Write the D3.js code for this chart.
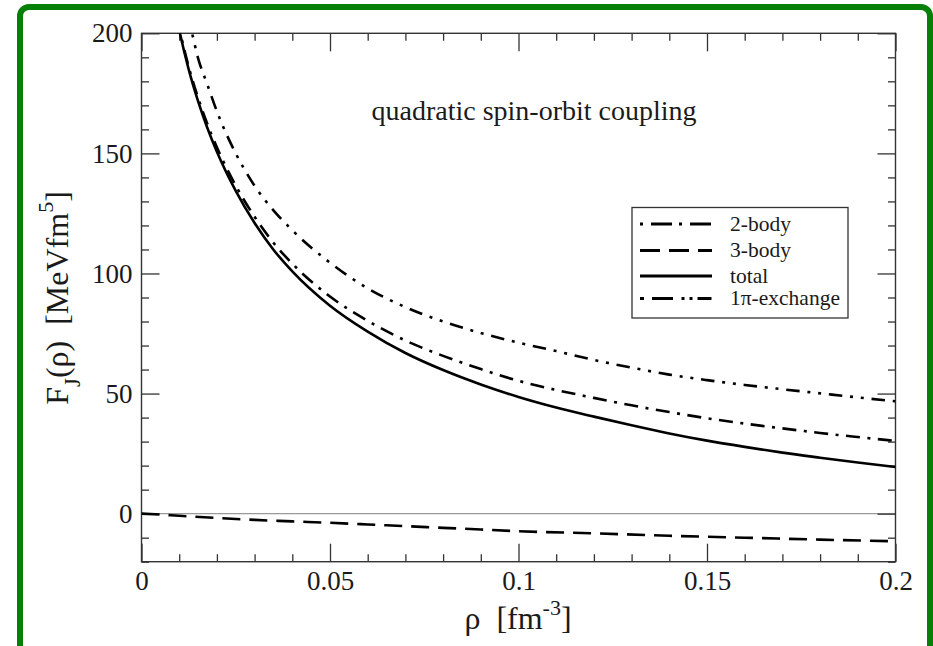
<!DOCTYPE html>
<html>
<head>
<meta charset="utf-8">
<script src="https://cdn.jsdelivr.net/npm/d3@7/dist/d3.min.js"></script>
<style>
  html, body { margin: 0; padding: 0; background: #fff; }
  svg { display: block; }
  text { font-family: "Liberation Serif", "Times New Roman", serif; fill: #1a1a1a; }
</style>
</head>
<body>
<svg id="chart" width="933" height="646"></svg>
<script>
// ---- data ----
const rho = [0.0095,0.0102,0.0125,0.015,0.0175,0.02,0.025,0.03,0.035,0.04,0.05,0.06,0.07,0.08,0.09,0.1,0.11,0.12,0.13,0.14,0.15,0.16,0.17,0.18,0.19,0.2];
const totalVals = [205.2,200,185.1,171.8,160.5,150.7,134.4,121.0,109.9,100.9,86.6,75.8,66.9,59.8,53.8,48.6,44.2,40.4,36.8,33.4,30.4,27.8,25.4,23.3,21.3,19.4];
const twoBodyVals = [206.0,200.9,186.2,173.2,162.1,152.5,136.6,123.6,112.8,104.1,90.4,80.3,72.1,65.7,60.2,55.3,51.5,48.2,45.1,42.3,39.7,37.5,35.5,33.6,31.9,30.3];
const rho3 = [0,0.005,0.01,0.02,0.03,0.04,0.05,0.06,0.07,0.08,0.09,0.1,0.12,0.14,0.16,0.18,0.2];
const threeBodyVals = [0,-0.4,-0.9,-1.8,-2.6,-3.2,-3.8,-4.5,-5.2,-5.9,-6.6,-7.3,-8.2,-9.2,-10.0,-10.8,-11.5];
const rhoPi = [0.012,0.0134,0.015,0.0175,0.02,0.025,0.03,0.035,0.04,0.05,0.06,0.07,0.08,0.09,0.1,0.11,0.12,0.13,0.14,0.15,0.16,0.17,0.18,0.19,0.2];
const onePiVals = [208,200,189.7,178.5,167.5,150,136.5,126.3,118,104.5,93.8,86,80,75.2,71.2,67.7,64,60.8,57.9,55.6,53.6,51.8,50.1,48.4,46.8];

const xMajor = [0, 0.05, 0.1, 0.15, 0.2];
const xMajorLabels = ["0", "0.05", "0.1", "0.15", "0.2"];
const yMajor = [0, 50, 100, 150, 200];
const yMajorLabels = ["0", "50", "100", "150", "200"];

const seriesNames = ["2-body", "3-body", "total", "1\u03c0-exchange"];
const annotation = "quadratic spin-orbit coupling";

// ---- layout ----
const svg = d3.select("#chart");
const L = 141.5, R = 895.5, T = 33.3, B = 561.7;
const x = d3.scaleLinear().domain([0, 0.2]).range([L, R]);
const y = d3.scaleLinear().domain([-20, 200]).range([B, T]);

const dashes = {
  "2-body": "14,7.5,3,7.5",
  "3-body": "18,9",
  "total": null,
  "1\u03c0-exchange": "13.5,7.8,3,7.8,3,7.8"
};
const legendDashes = {
  "2-body": "3,8,21,7",
  "3-body": "20,9",
  "total": null,
  "1\u03c0-exchange": "4,8,21,8.5,3,5,3,5,14"
};

// green rounded border
svg.append("rect")
  .attr("x", 20).attr("y", 7).attr("width", 910).attr("height", 680)
  .attr("rx", 9).attr("ry", 9)
  .attr("fill", "none").attr("stroke", "#078007").attr("stroke-width", 6);

// clip
svg.append("defs").append("clipPath").attr("id", "clip")
  .append("rect").attr("x", L).attr("y", T).attr("width", R - L).attr("height", B - T);

// zero line
svg.append("line")
  .attr("x1", x(0)).attr("x2", x(0.2)).attr("y1", y(0)).attr("y2", y(0))
  .attr("stroke", "#9a9a9a").attr("stroke-width", 1.2);

// axes (ticks inward)
const xMinor = d3.range(0, 0.2001, 0.01).map(v => +v.toFixed(3)).filter(v => !xMajor.some(m => Math.abs(m - v) < 1e-9));
const yMinor = d3.range(-20, 201, 10).filter(v => v % 50 !== 0);

function styleAxis(g) {
  g.select(".domain").remove();
  g.selectAll(".tick line").attr("stroke", "#333").attr("stroke-width", 1.3);
  g.selectAll(".tick text").attr("font-size", 27).attr("fill", "#1a1a1a")
    .style("font-family", '"Liberation Serif", "Times New Roman", serif');
}

svg.append("g").attr("transform", `translate(0,${B})`)
  .call(d3.axisBottom(x).tickValues(xMajor).tickFormat((d, i) => xMajorLabels[i]).tickSize(-18).tickPadding(9))
  .call(styleAxis);
svg.append("g").attr("transform", `translate(0,${B})`)
  .call(d3.axisBottom(x).tickValues(xMinor).tickFormat("").tickSize(-7.5))
  .call(styleAxis);
svg.append("g").attr("transform", `translate(0,${T})`)
  .call(d3.axisTop(x).tickValues(xMajor).tickFormat("").tickSize(-18))
  .call(styleAxis);
svg.append("g").attr("transform", `translate(0,${T})`)
  .call(d3.axisTop(x).tickValues(xMinor).tickFormat("").tickSize(-7.5))
  .call(styleAxis);

svg.append("g").attr("transform", `translate(${L},0)`)
  .call(d3.axisLeft(y).tickValues(yMajor).tickFormat((d, i) => yMajorLabels[i]).tickSize(-18).tickPadding(9))
  .call(styleAxis);
svg.append("g").attr("transform", `translate(${L},0)`)
  .call(d3.axisLeft(y).tickValues(yMinor).tickFormat("").tickSize(-7.5))
  .call(styleAxis);
svg.append("g").attr("transform", `translate(${R},0)`)
  .call(d3.axisRight(y).tickValues(yMajor).tickFormat("").tickSize(-18))
  .call(styleAxis);
svg.append("g").attr("transform", `translate(${R},0)`)
  .call(d3.axisRight(y).tickValues(yMinor).tickFormat("").tickSize(-7.5))
  .call(styleAxis);

// frame
svg.append("rect").attr("x", L).attr("y", T).attr("width", R - L).attr("height", B - T)
  .attr("fill", "none").attr("stroke", "#333").attr("stroke-width", 1.4);

// curves
const line = d3.line().x(d => x(d[0])).y(d => y(d[1])).curve(d3.curveMonotoneX);
const series = [
  { name: "2-body", xs: rho, ys: twoBodyVals },
  { name: "3-body", xs: rho3, ys: threeBodyVals },
  { name: "total", xs: rho, ys: totalVals },
  { name: "1\u03c0-exchange", xs: rhoPi, ys: onePiVals }
];
const plot = svg.append("g").attr("clip-path", "url(#clip)");
series.forEach(s => {
  plot.append("path")
    .datum(s.xs.map((v, i) => [v, s.ys[i]]))
    .attr("d", line)
    .attr("fill", "none")
    .attr("stroke", "#000")
    .attr("stroke-width", 2.6)
    .attr("stroke-dasharray", dashes[s.name]);
});

// annotation
svg.append("text").attr("x", 534).attr("y", 120).attr("text-anchor", "middle")
  .attr("font-size", 28).text(annotation);

// legend
const lg = svg.append("g");
lg.append("rect").attr("x", 632).attr("y", 207.5).attr("width", 216).attr("height", 110.5)
  .attr("fill", "#fff").attr("stroke", "#333").attr("stroke-width", 1.3);
const rowY = [224, 250.5, 276, 298.5];
seriesNames.forEach((n, i) => {
  lg.append("line").attr("x1", 640).attr("x2", 712).attr("y1", rowY[i]).attr("y2", rowY[i])
    .attr("stroke", "#000").attr("stroke-width", 2.8)
    .attr("stroke-dasharray", legendDashes[n]);
  lg.append("text").attr("x", 730).attr("y", rowY[i] + 6.5).attr("font-size", 21.5).text(n);
});

// x axis title
const xt = svg.append("text").attr("x", 518).attr("y", 629).attr("text-anchor", "middle")
  .attr("font-size", 32).style("white-space", "pre");
xt.append("tspan").text("\u03c1  [fm");
xt.append("tspan").attr("font-size", 22).attr("dy", -14).text("-3");
xt.append("tspan").attr("dy", 14).text("]");

// y axis title
const yt = svg.append("text").attr("transform", "translate(68,298) rotate(-90)")
  .attr("text-anchor", "middle").attr("font-size", 32).style("white-space", "pre");
yt.append("tspan").text("F");
yt.append("tspan").attr("font-size", 23).attr("dy", 12).text("J");
yt.append("tspan").attr("dy", -12).text("(\u03c1)  [MeVfm");
yt.append("tspan").attr("font-size", 22).attr("dy", -15).text("5");
yt.append("tspan").attr("dy", 15).text("]");
</script>
</body>
</html>
